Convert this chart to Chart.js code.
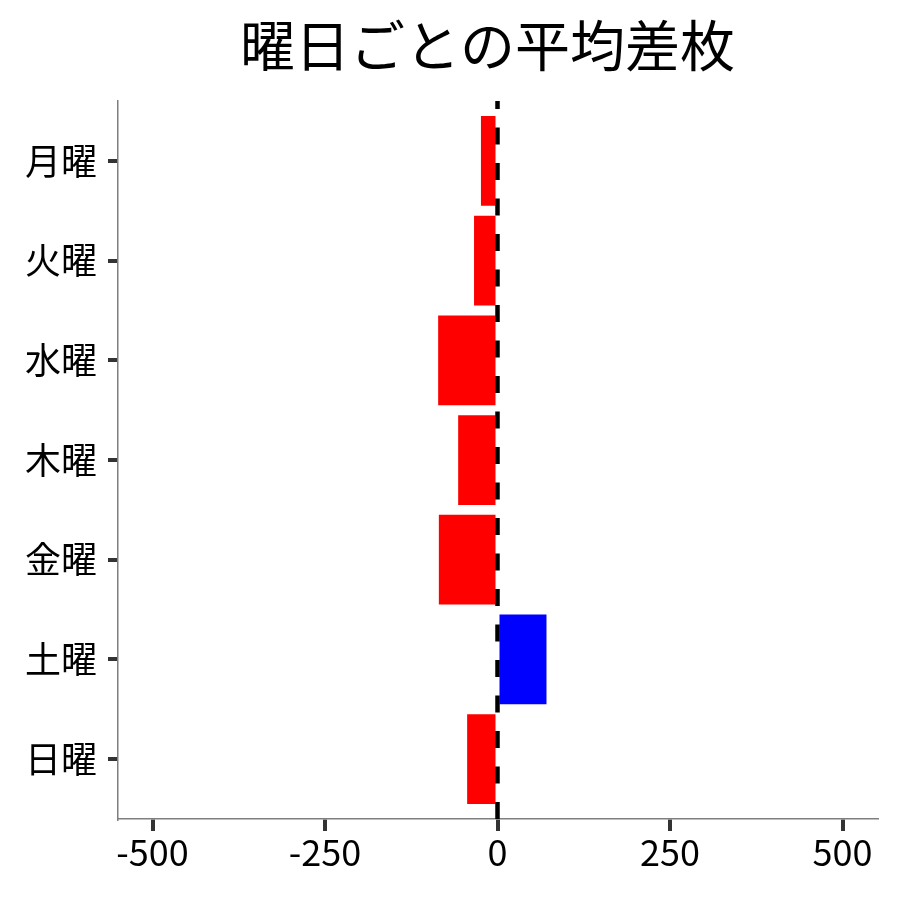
<!DOCTYPE html>
<html lang="ja">
<head>
<meta charset="utf-8">
<title>曜日ごとの平均差枚</title>
<script src="https://cdn.jsdelivr.net/npm/chart.js@4.4.1/dist/chart.umd.min.js"></script>
<style>
  html, body { margin: 0; padding: 0; background: #fff; }
  #wrap { width: 900px; height: 900px; }
</style>
</head>
<body>
<div id="wrap"><canvas id="chart"></canvas></div>
<script>
// values
const chartTitle = '曜日ごとの平均差枚';
const days = ['月曜', '火曜', '水曜', '木曜', '金曜', '土曜', '日曜'];
const avgDiff = [-24, -34, -86, -57, -85, 71, -44];
const xTicks = [-500, -250, 0, 250, 500];
const xTickLabels = ['-500', '-250', '0', '250', '500'];

const FONT = "'Noto Sans CJK JP', 'Noto Sans', sans-serif";

// positive -> blue, negative -> red
const barColors = avgDiff.map(v => (v >= 0 ? '#0000ff' : '#ff0000'));

// title drawn centred over the panel
const titlePlugin = {
    id: 'panelTitle',
    afterDraw(chart) {
        const { ctx, chartArea } = chart;
        ctx.save();
        ctx.font = `55px ${FONT}`;
        ctx.fillStyle = '#000';
        ctx.textAlign = 'center';
        ctx.textBaseline = 'middle';
        ctx.fillText(chartTitle, (chartArea.left + chartArea.right) / 2 - 10, 45);
        ctx.restore();
    }
};

// dashed reference line at x = 0, drawn bottom to top like ggplot
const zeroLine = {
    id: 'zeroLine',
    afterDatasetsDraw(chart) {
        const { ctx, chartArea, scales } = chart;
        const x = scales.x.getPixelForValue(0);
        ctx.save();
        ctx.strokeStyle = '#000';
        ctx.lineWidth = 4.5;
        ctx.setLineDash([17, 18.5]);
        ctx.beginPath();
        ctx.moveTo(x, chartArea.bottom);
        ctx.lineTo(x, chartArea.top);
        ctx.stroke();
        ctx.restore();
    }
};

new Chart(document.getElementById('chart'), {
    type: 'bar',
    data: {
        datasets: [{
            data: days.map((d, i) => ({ x: avgDiff[i], y: i })),
            backgroundColor: barColors,
            borderWidth: 0,
            barPercentage: 0.9,
            categoryPercentage: 1.0
        }]
    },
    options: {
        indexAxis: 'y',
        responsive: true,
        maintainAspectRatio: false,
        animation: false,
        layout: {
            padding: { top: 101, left: 0, right: 23, bottom: 0 }
        },
        plugins: {
            legend: { display: false },
            tooltip: { enabled: false },
            title: { display: false }
        },
        scales: {
            x: {
                type: 'linear',
                min: -550,
                max: 550,
                afterBuildTicks: scale => {
                    scale.ticks = xTicks.map(v => ({ value: v }));
                },
                afterFit: scale => { scale.height = 81; },
                ticks: {
                    callback: (v) => xTickLabels[xTicks.indexOf(v)],
                    font: { family: FONT, size: 36 },
                    color: '#000',
                    padding: 0,
                    maxRotation: 0
                },
                grid: {
                    drawOnChartArea: false,
                    color: '#333',
                    lineWidth: 4,
                    tickLength: 12,
                    tickWidth: 4,
                    tickColor: '#333'
                },
                border: { color: '#7f7f7f', width: 1.5 }
            },
            y: {
                type: 'linear',
                reverse: true,
                offset: false,
                min: -0.6,
                max: 6.6,
                afterBuildTicks: scale => {
                    scale.ticks = days.map((d, i) => ({ value: i }));
                },
                afterFit: scale => { scale.width = 118; },
                ticks: {
                    callback: (v) => days[v],
                    font: { family: FONT, size: 36 },
                    color: '#000',
                    padding: 11
                },
                grid: {
                    offset: false,
                    drawOnChartArea: false,
                    color: '#333',
                    lineWidth: 4,
                    tickLength: 10,
                    tickWidth: 4,
                    tickColor: '#333'
                },
                border: { color: '#7f7f7f', width: 1.5 }
            }
        }
    },
    plugins: [titlePlugin, zeroLine]
});
</script>
</body>
</html>
